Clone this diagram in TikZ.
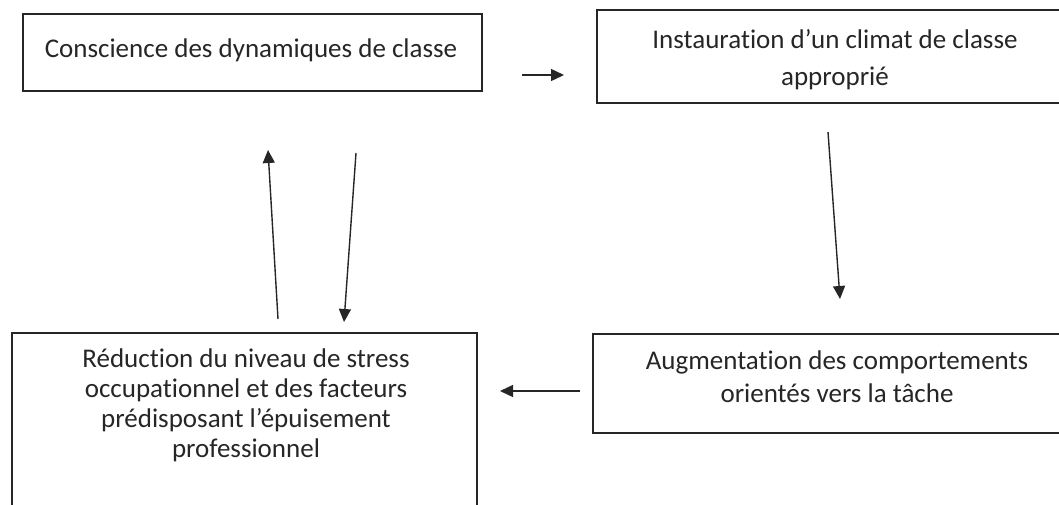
\documentclass[tikz,border=0pt]{standalone}
\usepackage{fontspec}
\setmainfont{Carlito}[Ligatures=NoCommon]
\usetikzlibrary{arrows.meta}
\begin{document}
\begin{tikzpicture}[x=1pt,y=-1pt,
  box/.style={draw=black!85,line width=1.2pt,inner sep=0pt},
  lbl/.style={align=center,text=black!85,inner sep=0pt},
  arr/.style={line width=1.4pt,draw=black!85,-{Triangle[length=13pt,width=12pt]}}]
\useasboundingbox (0,0) rectangle (1059,504);
% boxes (some run past the picture's edge, as in the reference)
\node[box,minimum width=459pt,minimum height=77pt] (b1) at (252.5,52.5) {};
\node[box,minimum width=470pt,minimum height=93pt] (b2) at (832,56.5) {};
\node[box,minimum width=465pt,minimum height=178pt] (b3) at (244.5,422) {};
\node[box,minimum width=475pt,minimum height=99pt] (b4) at (830.5,383.5) {};
% texts
\node[lbl,font=\fontsize{27}{30}\selectfont] (t1) at (251,50) {Conscience des dynamiques de classe};
\node[lbl,font=\fontsize{27}{37}\selectfont] (t2) at (835,60) {Instauration d’un climat de classe\\appropri\'e};
\node[lbl,font=\fontsize{27}{30}\selectfont] (t3) at (246,405) {R\'eduction du niveau de stress\\occupationnel et des facteurs\\pr\'edisposant l’\'epuisement\\professionnel};
\node[lbl,font=\fontsize{27}{33}\selectfont] (t4) at (837,377) {Augmentation des comportements\\orient\'es vers la t\^ache};
% arrow ends
\coordinate (a1s) at (522,75);
\coordinate (a1e) at (564,75);
\coordinate (a2s) at (828,132);
\coordinate (a2e) at (840,299);
\coordinate (a3s) at (580,391);
\coordinate (a3e) at (500,391);
\coordinate (a4s) at (278,319);
\coordinate (a4e) at (268,150);
\coordinate (a5s) at (356,153);
\coordinate (a5e) at (344,322);
\draw[arr] (a1s) -- (a1e);
\draw[arr] (a2s) -- (a2e);
\draw[arr] (a3s) -- (a3e);
\draw[arr] (a4s) -- (a4e);
\draw[arr] (a5s) -- (a5e);
\end{tikzpicture}
\end{document}
